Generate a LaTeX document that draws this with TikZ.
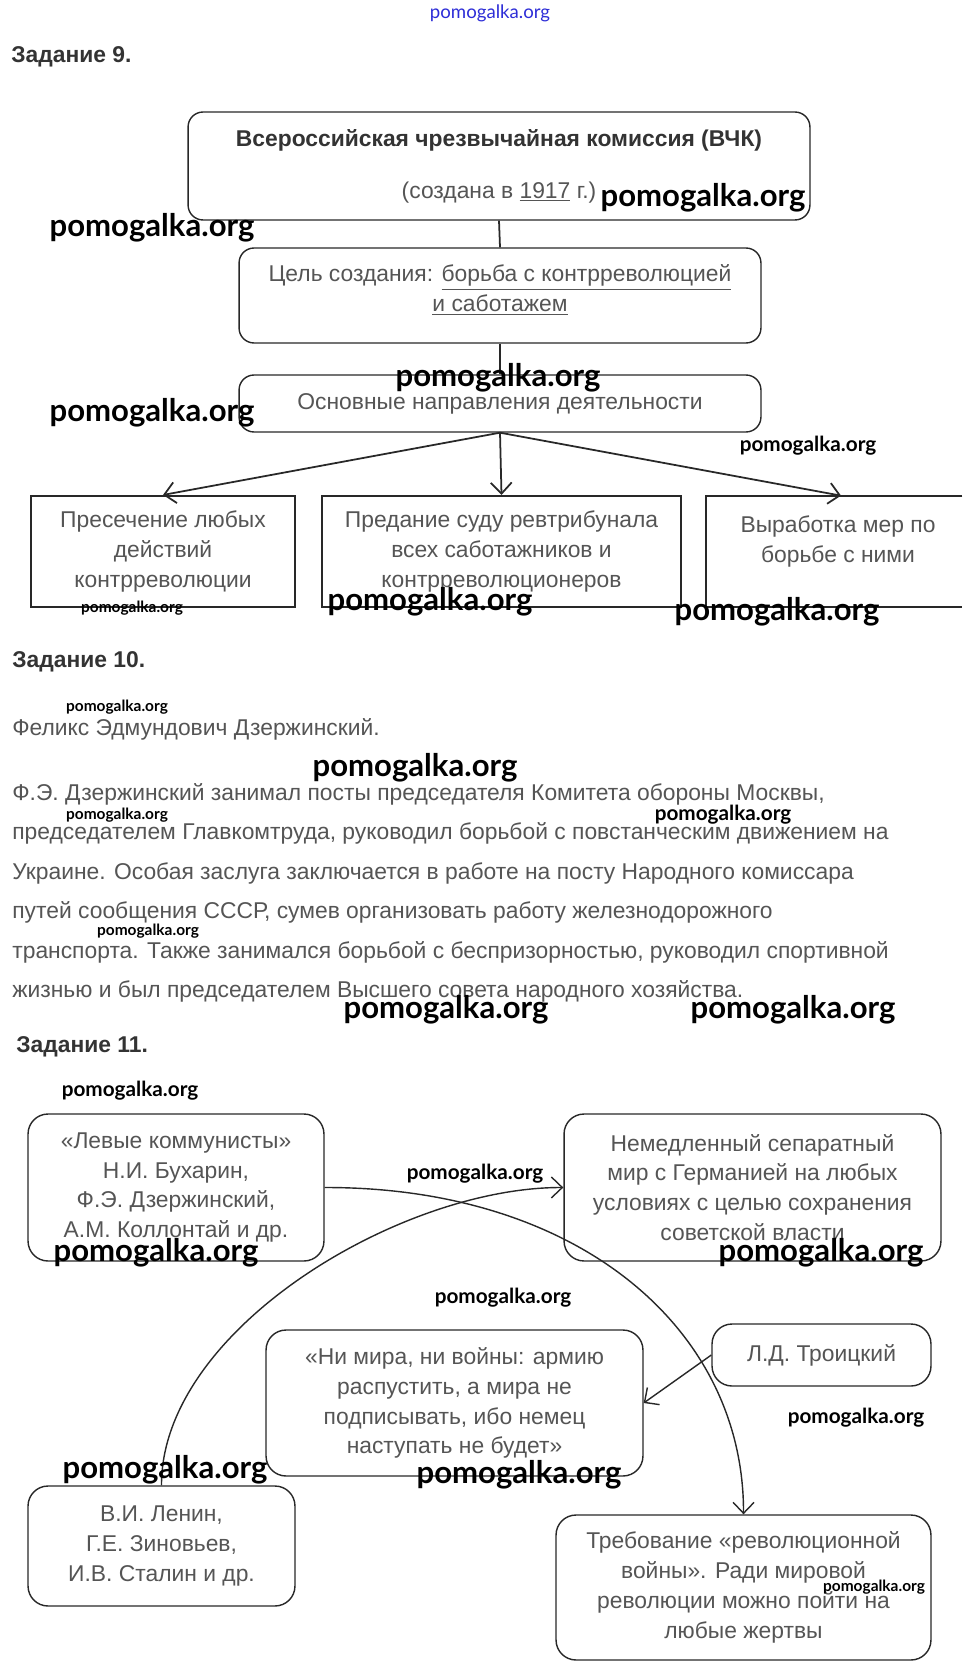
\documentclass[tikz,border=0pt]{standalone}
\usepackage{fontspec}
\setmainfont{Liberation Sans}
\newfontfamily\wmfont{Lato}
\usepackage{xcolor}
\usetikzlibrary{positioning,shapes,arrows.meta,calc}

\definecolor{txtgray}{RGB}{85,85,85}
\definecolor{headgray}{RGB}{51,51,51}
\definecolor{linegray}{RGB}{40,40,40}
\definecolor{wmblue}{RGB}{45,45,215}

\begin{document}
\begin{tikzpicture}[
    x=0.02cm, y=-0.02cm,
    every node/.style={font=\fontsize{13}{17}\selectfont, text=txtgray, align=center},
    rbox/.style={draw=linegray, line width=0.8pt, rounded corners=0.3cm},
    rbig/.style={draw=linegray, line width=0.8pt, rounded corners=0.4cm},
    sbox/.style={draw=linegray, line width=1.2pt},
    heading/.style={anchor=west, inner sep=0pt, text=headgray, font=\fontsize{13}{17}\selectfont\bfseries},
    link/.style={draw=linegray, line width=1pt},
    arr/.style={draw=linegray, line width=1pt, -{Straight Barb[length=0.22cm, width=0.42cm]}},
    curv/.style={draw=linegray, line width=0.8pt, -{Straight Barb[length=0.22cm, width=0.42cm]}},
    wmbig/.style={text=black, inner sep=0pt, font=\wmfont\bfseries\fontsize{17.7}{19}\selectfont},
    wmmid/.style={text=black, inner sep=0pt, font=\wmfont\bfseries\fontsize{11.8}{13}\selectfont},
    wmsmall/.style={text=black, inner sep=0pt, font=\wmfont\bfseries\fontsize{8.8}{10}\selectfont}
]
    \fill[white] (0,0) rectangle (973,1675);
    \useasboundingbox (0,0) rectangle (973,1675);

    % header
    \node[inner sep=0pt, text=wmblue, font=\wmfont\fontsize{10.6}{12}\selectfont] (site) at (490,13) {pomogalka.org};

    % task 9
    \node[heading] (t9) at (11,57) {Задание 9.};
    \node[rbox, minimum width=12.44cm, minimum height=2.16cm] (vchk) at (499,166)
        {{\bfseries\color{headgray}Всероссийская чрезвычайная комиссия (ВЧК)}\\[0.44cm]
         (создана в \underline{1917} г.)};
    \node[rbox, minimum width=10.44cm, minimum height=1.9cm] (goal) at (500,295.5) {};
    \node (goaltxt) at (500,290)
        {Цель создания: \underline{борьба с контрреволюцией}\\ \underline{и саботажем}};
    \node[rbox, minimum width=10.44cm, minimum height=1.14cm] (dirs) at (500,403.5)
        {Основные направления деятельности};
    \node[sbox, minimum width=5.28cm, minimum height=2.22cm] (d1) at (163,551.5)
        {Пресечение любых\\действий\\контрреволюции};
    \node[sbox, minimum width=7.18cm, minimum height=2.22cm] (d2) at (501.5,551.5)
        {Предание суду ревтрибунала\\всех саботажников и\\контрреволюционеров};
    \node[minimum width=5.12cm, minimum height=2.22cm] (d3) at (834,551.5) {};
    \node (d3txt) at (838,541.5) {Выработка мер по\\борьбе с ними};
    \draw[sbox] (d3.north east) -- (d3.north west) -- (d3.south west) -- (d3.south east);

    \draw[link] (vchk.south) -- (goal.north);
    \draw[link] (goal.south) -- (dirs.north);
    \draw[arr] (dirs.south) -- (d1.north);
    \draw[arr] (dirs.south) -- (d2.north);
    \draw[arr] (dirs.south) -- ([xshift=4]d3.north);

    % task 10
    \node[heading] (t10) at (12,662) {Задание 10.};
    \node[anchor=west, inner sep=0pt] (name) at (12,729) {Феликс Эдмундович Дзержинский.};
    \node[anchor=north west, inner sep=0pt, align=left, font=\fontsize{13}{22.5}\selectfont] (bio) at (12,783)
        {Ф.Э. Дзержинский занимал посты председателя Комитета обороны Москвы,\\
         председателем Главкомтруда, руководил борьбой с повстанческим движением на\\
         Украине. Особая заслуга заключается в работе на посту Народного комиссара\\
         путей сообщения СССР, сумев организовать работу железнодорожного\\
         транспорта. Также занимался борьбой с беспризорностью, руководил спортивной\\
         жизнью и был председателем Высшего совета народного хозяйства.};

    % task 11
    \node[heading] (t11) at (16,1047) {Задание 11.};
    \node[rbig, minimum width=5.92cm, minimum height=2.94cm] (left1) at (176,1187.5)
        {«Левые коммунисты»\\Н.И. Бухарин,\\Ф.Э. Дзержинский,\\А.М. Коллонтай и др.};
    \node[rbig, minimum width=7.54cm, minimum height=2.94cm] (right1) at (752.5,1187.5)
        {Немедленный сепаратный\\мир с Германией на любых\\условиях с целью сохранения\\советской власти};
    \node[rbig, minimum width=7.54cm, minimum height=2.92cm] (nimira) at (454.5,1403)
        {«Ни мира, ни войны: армию\\распустить, а мира не\\подписывать, ибо немец\\наступать не будет»};
    \node[rbig, minimum width=4.38cm, minimum height=1.24cm] (trotsky) at (821.5,1355)
        {Л.Д. Троицкий};
    \node[rbig, minimum width=5.34cm, minimum height=2.4cm] (lenin) at (161.5,1546)
        {В.И. Ленин,\\Г.Е. Зиновьев,\\И.В. Сталин и др.};
    \node[rbig, minimum width=7.5cm, minimum height=2.9cm] (revwar) at (743.5,1587.5)
        {Требование «революционной\\войны». Ради мировой\\революции можно пойти на\\любые жертвы};

    \draw[curv] (left1.east) .. controls (580,1187) and (744,1330) .. (revwar.north);
    \draw[curv] (lenin.north) .. controls (161,1330) and (400,1187) .. (right1.west);
    \draw[curv] (trotsky.west) -- (nimira.east);

    % watermarks
    \node[wmbig] (wm1) at (703,198) {pomogalka.org};
    \node[wmbig] (wm2) at (152,228) {pomogalka.org};
    \node[wmbig] (wm3) at (498,378) {pomogalka.org};
    \node[wmbig] (wm4) at (152,413) {pomogalka.org};
    \node[wmmid] (wm5) at (808,446) {pomogalka.org};
    \node[wmsmall] (wm6) at (132,608) {pomogalka.org};
    \node[wmbig] (wm7) at (430,602) {pomogalka.org};
    \node[wmbig] (wm8) at (777,612) {pomogalka.org};
    \node[wmsmall] (wm9) at (117,707) {pomogalka.org};
    \node[wmbig] (wm10) at (415,768) {pomogalka.org};
    \node[wmsmall] (wm11) at (117,815) {pomogalka.org};
    \node[wmmid] (wm12) at (723,815) {pomogalka.org};
    \node[wmsmall] (wm13) at (148,931) {pomogalka.org};
    \node[wmbig] (wm14) at (446,1010) {pomogalka.org};
    \node[wmbig] (wm15) at (793,1010) {pomogalka.org};
    \node[wmmid] (wm16) at (130,1091) {pomogalka.org};
    \node[wmmid] (wm17) at (475,1174) {pomogalka.org};
    \node[wmbig] (wm18) at (156,1253) {pomogalka.org};
    \node[wmbig] (wm19) at (821,1253) {pomogalka.org};
    \node[wmmid] (wm20) at (503,1298) {pomogalka.org};
    \node[wmmid] (wm21) at (856,1418) {pomogalka.org};
    \node[wmbig] (wm22) at (165,1470) {pomogalka.org};
    \node[wmbig] (wm23) at (519,1475) {pomogalka.org};
    \node[wmsmall] (wm24) at (874,1587) {pomogalka.org};
\end{tikzpicture}
\end{document}
